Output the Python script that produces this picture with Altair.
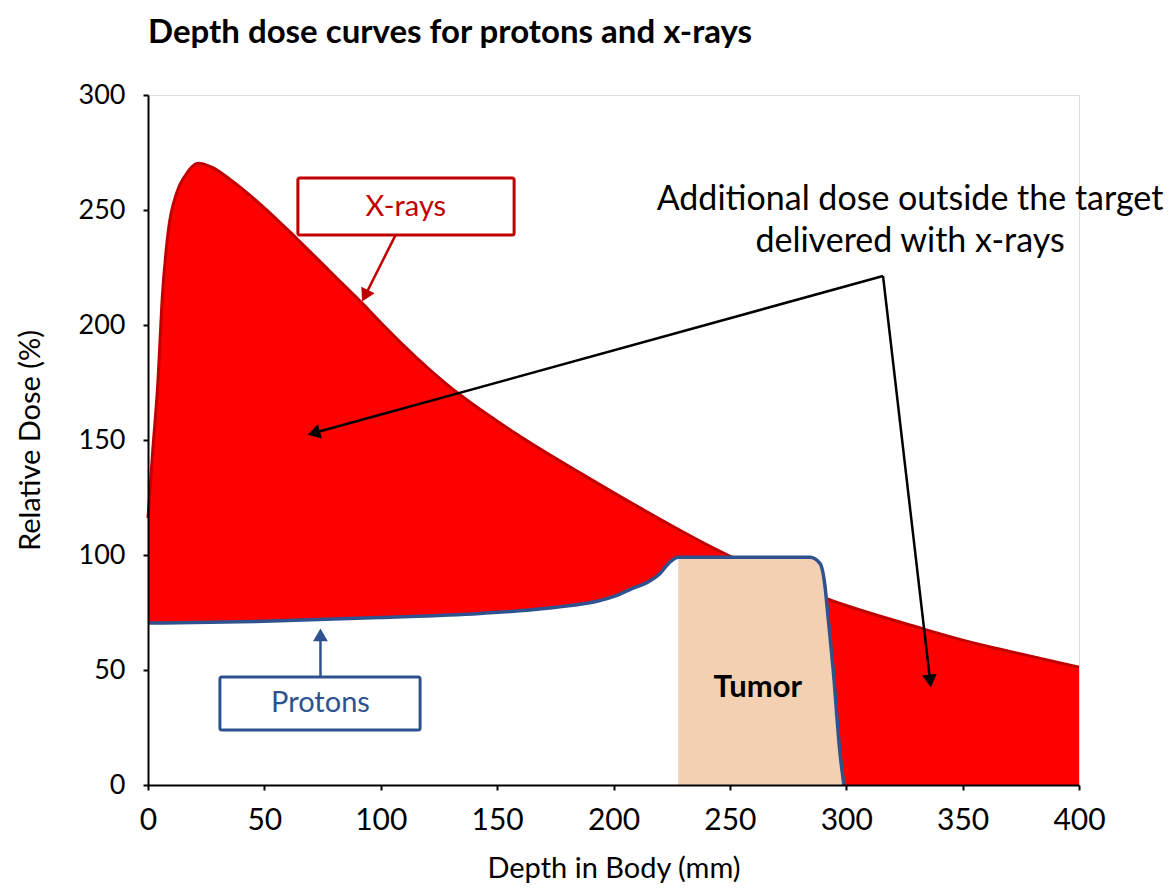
import math
import altair as alt
import pandas as pd

# ---- data ----
xray_depth = [0, 2, 4.3, 6, 8.6, 12.5, 16, 21.6, 28, 35, 49.5, 64, 78, 92.5, 101,
              128, 157, 186, 214, 243, 249, 291.6, 301.6, 330, 350, 375, 400]
xray_dose = [116, 145, 176, 210, 240, 258, 265, 270.3, 268.3, 263.5, 251.4, 237.5, 223.5, 209, 200,
             174.5, 153.5, 135.5, 119, 103, 100, 81, 77.5, 68.8, 63, 57, 51.2]

proton_depth = [0, 50, 99.7, 142.6, 171.3, 199.9, 208.4, 214.3, 220, 224.3, 227.8,
                284.4, 288.7, 290.9, 292, 294.4, 297.3, 299]
proton_dose = [70.4, 71.2, 72.8, 74.6, 76.8, 81.9, 85.6, 88, 92, 97, 99,
               99, 96.4, 86.2, 75, 50, 14, 0]
tumor_start = 227.8

x_ticks = [0, 50, 100, 150, 200, 250, 300, 350, 400]
y_ticks = [0, 50, 100, 150, 200, 250, 300]

# annotation anchors (data units)
box_labels = ["X-rays", "Protons"]
box_x = [64.4, 30.9]
box_x2 = [157.3, 116.9]
box_y = [239.1, 23.9]
box_y2 = [263.9, 47.0]
box_text_x = [110.8, 74.1]
box_text_y = [251.3, 35.7]

arrow_x1 = [107.0, 74.1, 315.8, 315.8]
arrow_y1 = [240.4, 47.0, 221.3, 221.3]
arrow_x2 = [91.9, 74.1, 68.3, 336.4]
arrow_y2 = [210.0, 68.3, 152.2, 42.2]
arrow_kind = ["xray", "proton", "note", "note"]

note_lines = ["Additional dose outside the target", "delivered with x-rays"]
note_x = [327.4, 327.4]
note_y = [254.3, 236.1]

tumor_label = "Tumor"
tumor_label_x = 262.0
tumor_label_y = 42.2

# ---- styling ----
W, H = 931, 690
PX_X = W / 400.0
PX_Y = H / 300.0
RED = "#FF0000"
DARK_RED = "#C00000"
BLUE = "#2F528F"
TAN = "#F2D0B1"
FONT = "Lato"

xray_df = pd.DataFrame({"depth": xray_depth, "dose": xray_dose})
proton_df = pd.DataFrame({"depth": proton_depth, "dose": proton_dose})
tumor_df = proton_df[proton_df.depth >= tumor_start]

xs = alt.Scale(domain=[0, 400], nice=False, zero=False)
ys = alt.Scale(domain=[0, 300], nice=False)

X = alt.X("depth:Q", scale=xs, axis=alt.Axis(
    title="Depth in Body (mm)", values=x_ticks, grid=False, zindex=1, labelFlush=False,
    domainColor="#000000", domainWidth=2, tickColor="#000000", tickWidth=2, tickSize=5,
    labelFont=FONT, labelFontSize=30, labelColor="#000000", labelPadding=15,
    titleFont=FONT, titleFontSize=29, titleFontWeight="normal", titleColor="#000000",
    titlePadding=19))
Y = alt.Y("dose:Q", scale=ys, axis=alt.Axis(
    title="Relative Dose (%)", values=y_ticks, grid=False, zindex=1,
    domainColor="#000000", domainWidth=2, tickColor="#000000", tickWidth=2, tickSize=5,
    labelFont=FONT, labelFontSize=27, labelColor="#000000", labelPadding=18,
    titleFont=FONT, titleFontSize=29, titleFontWeight="normal", titleColor="#000000",
    titlePadding=33))

red_area = alt.Chart(xray_df).mark_area(color=RED, interpolate="monotone").encode(x=X, y=Y)
xray_line = alt.Chart(xray_df).mark_line(color=DARK_RED, strokeWidth=3, interpolate="monotone").encode(
    x=alt.X("depth:Q", scale=xs), y=alt.Y("dose:Q", scale=ys))
white_area = alt.Chart(proton_df).mark_area(color="#FFFFFF", interpolate="monotone").encode(
    x=alt.X("depth:Q", scale=xs), y=alt.Y("dose:Q", scale=ys))
tumor_area = alt.Chart(tumor_df).mark_area(color=TAN, interpolate="monotone").encode(
    x=alt.X("depth:Q", scale=xs), y=alt.Y("dose:Q", scale=ys))
proton_line = alt.Chart(proton_df).mark_line(color=BLUE, strokeWidth=3.5, interpolate="monotone").encode(
    x=alt.X("depth:Q", scale=xs), y=alt.Y("dose:Q", scale=ys))

# arrows
colors = {"xray": DARK_RED, "proton": BLUE, "note": "#000000"}
rows = []
for x1, y1, x2, y2, k in zip(arrow_x1, arrow_y1, arrow_x2, arrow_y2, arrow_kind):
    dxp = (x2 - x1) * PX_X
    dyp = (y2 - y1) * PX_Y
    L = math.hypot(dxp, dyp)
    ang = math.degrees(math.atan2(dxp, dyp)) % 360
    back = 7.0
    hx = x2 - dxp / L * back / PX_X
    hy = y2 - dyp / L * back / PX_Y
    rows.append({"x1": x1, "y1": y1, "x2": hx, "y2": hy, "hx": hx, "hy": hy,
                 "ang": ang, "color": colors[k]})
arrow_df = pd.DataFrame(rows)

arrow_lines = alt.Chart(arrow_df).mark_rule(strokeWidth=2.5).encode(
    x=alt.X("x1:Q", scale=xs), y=alt.Y("y1:Q", scale=ys),
    x2="x2:Q", y2="y2:Q", color=alt.Color("color:N", scale=None))
arrow_heads = alt.Chart(arrow_df).mark_point(shape="triangle-up", filled=True, size=220, opacity=1).encode(
    x=alt.X("hx:Q", scale=xs), y=alt.Y("hy:Q", scale=ys),
    angle=alt.Angle("ang:Q", scale=None), color=alt.Color("color:N", scale=None))

box_df = pd.DataFrame({"label": box_labels, "x": box_x, "x2": box_x2, "y": box_y, "y2": box_y2,
                       "tx": box_text_x, "ty": box_text_y, "color": [DARK_RED, BLUE]})
boxes = alt.Chart(box_df).mark_rect(fill="#FFFFFF", strokeWidth=3, cornerRadius=2).encode(
    x=alt.X("x:Q", scale=xs), x2="x2:Q", y=alt.Y("y:Q", scale=ys), y2="y2:Q",
    stroke=alt.Stroke("color:N", scale=None))
box_text = alt.Chart(box_df).mark_text(font=FONT, fontSize=29, align="center", baseline="middle").encode(
    x=alt.X("tx:Q", scale=xs), y=alt.Y("ty:Q", scale=ys), text="label:N",
    color=alt.Color("color:N", scale=None))

note_df = pd.DataFrame({"t": note_lines, "x": note_x, "y": note_y})
note_text = alt.Chart(note_df).mark_text(font=FONT, fontSize=34, align="center", baseline="middle",
                                         color="#000000").encode(
    x=alt.X("x:Q", scale=xs), y=alt.Y("y:Q", scale=ys), text="t:N")

tumor_df_lbl = pd.DataFrame({"t": [tumor_label], "x": [tumor_label_x], "y": [tumor_label_y]})
tumor_text = alt.Chart(tumor_df_lbl).mark_text(font=FONT, fontSize=31, fontWeight="bold", align="center",
                                               baseline="middle", color="#000000").encode(
    x=alt.X("x:Q", scale=xs), y=alt.Y("y:Q", scale=ys), text="t:N")

chart = alt.layer(
    red_area, xray_line, white_area, tumor_area, proton_line,
    arrow_lines, arrow_heads, boxes, box_text, note_text, tumor_text
).properties(
    width=W, height=H,
    title=alt.TitleParams("Depth dose curves for protons and x-rays", anchor="start", frame="group",
                          font=FONT, fontSize=33, fontWeight="bold", color="#000000", offset=31),
    autosize=alt.AutoSizeParams(type="none"),
    padding={"left": 140, "top": 87, "right": 88, "bottom": 101},
).configure_view(stroke=None).configure(background="#FFFFFF")

chart.save("out.html", embed_options={"renderer": "svg", "actions": False})
